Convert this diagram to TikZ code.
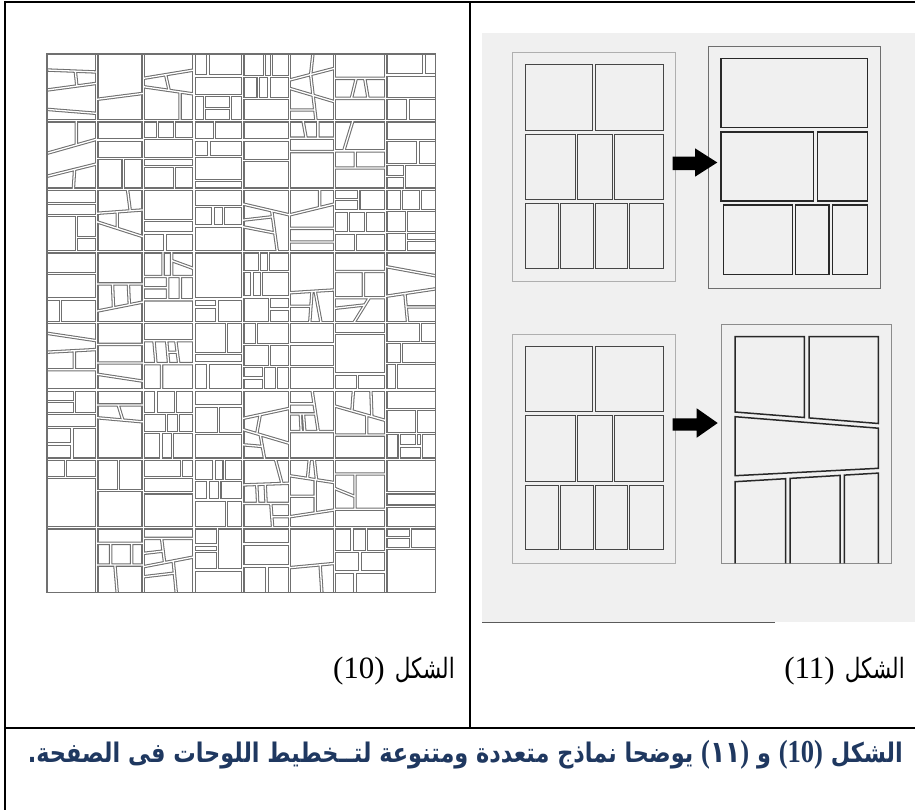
\documentclass[tikz,border=0pt]{standalone}
\usepackage{fontspec}
\usepackage{graphicx}
\TeXXeTstate=1
\newfontfamily\arabicfont[Script=Arabic]{DejaVu Sans}
\newfontfamily\serifLat{Liberation Serif}
\definecolor{capblue}{RGB}{31,56,96}
\definecolor{gutgray}{RGB}{112,112,112}
\definecolor{bgpanel}{RGB}{240,240,240}
\definecolor{panelA}{RGB}{70,70,70}
\definecolor{panelB}{RGB}{40,40,40}
\def\XL{{47,96.7,143.3,194,242.7,289.5,334.5,385.7,435.5}}
\def\YL{{54,120.7,189.3,251.7,322.5,390,459.3,527.7,592.7}}
\newcommand\cell[3]{%
  \pgfmathsetmacro\cxa{\XL[#1-1]}\pgfmathsetmacro\cxb{\XL[#1]}%
  \pgfmathsetmacro\cya{\YL[#2-1]}\pgfmathsetmacro\cyb{\YL[#2]}%
  \pgfmathsetmacro\cw{\cxb-\cxa}\pgfmathsetmacro\ch{\cyb-\cya}%
  \begin{scope}[xshift=\cxa bp, yshift=-\cya bp, x={(\cw bp,0bp)}, y={(0bp,-\ch bp)}]
    \draw[gut] #3;
  \end{scope}}
\newcommand\gridcontent{%
  \foreach \xx in {96.7,143.3,194,242.7,289.5,334.5,385.7} \draw[gutb] (\xx,54)--(\xx,592.7);
  \foreach \yy in {120.7,189.3,251.7,322.5,390,459.3,527.7} \draw[gutb] (47,\yy)--(435.5,\yy);
  % row 1
  \cell{1}{1}{(0,.24)--(1,.27) (.57,.255)--(.6,.48) (0,.54)--(1,.44) (0,.83)--(1,.89)}
  \cell{2}{1}{(0,.68)--(1,.59)}
  \cell{3}{1}{(0,.365)--(1,.24) (.44,.31)--(.51,.546) (0,.49)--(1,.6) (.725,.57)--(.725,1)}
  \cell{4}{1}{(.29,0)--(.29,.33) (0,.33)--(1,.33) (0,.62)--(1,.62) (.22,.62)--(.22,1) (.745,.62)--(.745,1) (.22,.815)--(.745,.815)}
  \cell{5}{1}{(.47,0)--(.47,.34) (.61,0)--(.61,.34) (0,.34)--(1,.34) (.33,.34)--(.33,.665) (.56,.34)--(.56,.665) (0,.665)--(1,.665)}
  \cell{6}{1}{(.52,0)--(.47,.31) (0,.39)--(1,.215) (0,.515)--(1,.715) (.47,.31)--(.59,1) (0,.84)--(.56,.84)}
  \cell{7}{1}{(0,.365)--(1,.365) (.33,.665)--(.425,.365) (.59,.365)--(.655,.665) (0,.665)--(1,.665)}
  \cell{8}{1}{(.77,0)--(.77,.315) (0,.315)--(1,.315) (0,.665)--(1,.665) (.45,.665)--(.45,1)}
  % row 2
  \cell{1}{2}{(.59,0)--(.59,.354) (0,.475)--(1,.27) (0,.81)--(1,.63) (.555,.71)--(.53,1)}
  \cell{2}{2}{(0,.28)--(1,.28) (0,.55)--(1,.55) (.568,.55)--(.568,1)}
  \cell{3}{2}{(.28,0)--(.28,.26) (.62,0)--(.62,.26) (0,.26)--(1,.26) (0,.55)--(1,.55) (0,.67)--(1,.67) (.62,.67)--(.62,1)}
  \cell{4}{2}{(.42,0)--(.42,.28) (0,.28)--(1,.28) (.31,.28)--(.31,.52) (0,.52)--(1,.52) (0,.87)--(1,.87)}
  \cell{5}{2}{(0,.28)--(1,.28) (0,.58)--(1,.58)}
  \cell{6}{2}{(.3,0)--(.37,.255) (.63,0)--(.63,.255) (0,.255)--(1,.255) (0,.45)--(1,.45)}
  \cell{7}{2}{(.36,0)--(.18,.44) (0,.44)--(1,.44) (.405,.44)--(.405,.69) (0,.69)--(1,.69)}
  \cell{8}{2}{(0,.285)--(1,.285) (.65,.285)--(.65,.635) (0,.635)--(1,.635) (.375,.635)--(.375,1) (0,.815)--(.375,.815)}
  % row 3
  \cell{1}{3}{(0,.225)--(1,.225) (0,.42)--(1,.42) (.595,.42)--(.595,1) (.595,.77)--(1,.77)}
  \cell{2}{3}{(.66,0)--(.72,.345) (0,.385)--(1,.33) (.44,.361)--(.44,.626) (0,.52)--(1,.76)}
  \cell{3}{3}{(0,.5)--(1,.5) (0,.7)--(1,.7) (.43,.7)--(.43,1)}
  \cell{4}{3}{(0,.28)--(1,.28) (.39,.28)--(.39,.59) (.61,.28)--(.61,.59) (0,.59)--(1,.59)}
  \cell{5}{3}{(0,.235)--(1,.41) (0,.495)--(.638,.44) (0,.6)--(.685,.7) (.62,.343)--(.74,1)}
  \cell{6}{3}{(.67,0)--(.67,.293) (0,.41)--(1,.235) (0,.625)--(1,.625) (0,.845)--(1,.845)}
  \cell{7}{3}{(0,.165)--(.475,.165) (.475,0)--(.475,.35) (0,.35)--(1,.35) (.27,.35)--(.27,.7) (.61,.35)--(.61,.7) (0,.7)--(1,.7) (.41,.7)--(.41,1)}
  \cell{8}{3}{(.32,0)--(.32,.34) (.7,0)--(.7,.34) (0,.34)--(1,.34) (.42,.34)--(.42,1) (0,.69)--(1,.69) (.42,.82)--(1,.82)}
  % row 4
  \cell{1}{4}{(0,.31)--(1,.31) (0,.67)--(1,.67) (.27,.67)--(.27,1)}
  \cell{2}{4}{(0,.455)--(1,.455) (.34,.455)--(.36,.793) (.68,.455)--(.7,.749) (0,.84)--(1,.71)}
  \cell{3}{4}{(.39,0)--(.39,.35) (.56,0)--(.56,.35) (.56,.125)--(1,.24) (0,.35)--(1,.35) (.48,.35)--(.48,.68) (.73,.35)--(.73,.68) (0,.51)--(.48,.51) (0,.68)--(1,.68)}
  \cell{4}{4}{(0,.67)--(1,.67) (0,.78)--(.47,.78) (.47,.67)--(.47,1)}
  \cell{5}{4}{(.36,0)--(.36,.28) (.55,0)--(.55,.28) (0,.28)--(1,.28) (.2,.28)--(.2,.64) (.4,.28)--(.4,.64) (0,.64)--(1,.64) (.57,.64)--(.57,1) (.57,.81)--(1,.81)}
  \cell{6}{4}{(0,.58)--(1,.54) (.5,.56)--(.45,1) (.57,.557)--(.7,1) (0,.77)--(.476,.77)}
  \cell{7}{4}{(0,.28)--(1,.28) (.565,.28)--(.565,.65) (0,.65)--(1,.65) (0,.8)--(.594,.752) (.68,.65)--(.38,1)}
  \cell{8}{4}{(0,.21)--(1,.34) (0,.63)--(1,.525) (.385,.59)--(.44,1) (.41,.78)--(1,.78)}
  % row 5
  \cell{1}{5}{(0,.16)--(1,.27) (0,.44)--(1,.4) (.55,.42)--(.55,.7) (0,.7)--(1,.7)}
  \cell{2}{5}{(0,.325)--(1,.325) (0,.6)--(1,.6) (0,.765)--(1,.87)}
  \cell{3}{5}{(0,.27)--(1,.27) (.21,.27)--(.25,.61) (.46,.27)--(.5,.61) (.64,.27)--(.7,.61) (.48,.44)--(.67,.44) (0,.61)--(1,.61) (.36,.61)--(.36,1)}
  \cell{4}{5}{(.67,0)--(.67,.46) (0,.46)--(1,.46) (0,.6)--(1,.6) (.29,.6)--(.29,1)}
  \cell{5}{5}{(.3,0)--(.3,.33) (0,.33)--(1,.33) (.57,.33)--(.57,.655) (0,.655)--(1,.655) (.45,.655)--(.45,1) (.72,.655)--(.72,1) (0,.82)--(.45,.82)}
  \cell{6}{5}{(0,.32)--(1,.32) (0,.655)--(1,.655)}
  \cell{7}{5}{(0,.16)--(1,.16) (0,.765)--(1,.765) (.45,.765)--(.45,1)}
  \cell{8}{5}{(.7,0)--(.7,.295) (0,.295)--(1,.295) (.32,.295)--(.32,.605) (0,.605)--(1,.605) (.22,.605)--(.22,1)}
  % row 6
  \cell{1}{6}{(0,.17)--(.55,.17) (.55,0)--(.55,.34) (0,.34)--(1,.34) (0,.545)--(1,.545) (.5,.545)--(.5,1) (0,.78)--(.5,.78)}
  \cell{2}{6}{(0,.215)--(1,.215) (.46,.215)--(.56,.434) (0,.4)--(1,.46)}
  \cell{3}{6}{(.25,0)--(.25,.34) (.63,0)--(.63,.34) (0,.34)--(1,.34) (.46,.34)--(.46,.615) (.69,.34)--(.69,.615) (0,.615)--(1,.615) (.35,.615)--(.35,1) (.58,.615)--(.58,1)}
  \cell{4}{6}{(0,.23)--(1,.23) (.5,.23)--(.5,.625) (0,.625)--(1,.625)}
  \cell{5}{6}{(0,.41)--(1,.265) (.375,.356)--(.3,.63) (0,.57)--(1,.77) (0,.79)--(.42,.815) (.375,.645)--(.47,1)}
  \cell{6}{6}{(.5,0)--(.64,.6) (0,.2)--(.547,.2) (0,.345)--(.58,.345) (.24,.345)--(.26,.6) (.31,.345)--(.34,.6) (0,.6)--(1,.6)}
  \cell{7}{6}{(.37,0)--(.34,.30) (.71,0)--(.73,.383) (0,.23)--(1,.44) (.63,.362)--(.63,.65) (0,.65)--(1,.65)}
  \cell{8}{6}{(0,.28)--(1,.28) (.62,.28)--(.62,.81) (0,.625)--(1,.625) (.27,.625)--(.27,1) (.72,.625)--(.72,1) (.27,.81)--(.72,.81)}
  % row 7
  \cell{1}{7}{(.37,0)--(.37,.265) (0,.265)--(1,.265)}
  \cell{2}{7}{(.465,0)--(.465,.46) (0,.46)--(1,.46)}
  \cell{3}{7}{(.75,0)--(.75,.265) (0,.265)--(1,.265) (0,.49)--(1,.49)}
  \cell{4}{7}{(.41,0)--(.41,.31) (.62,0)--(.62,.31) (0,.31)--(1,.31) (.29,.31)--(.29,.595) (.53,.31)--(.53,.595) (0,.595)--(1,.595) (.67,.595)--(.67,1)}
  \cell{5}{7}{(.7,0)--(.84,.354) (0,.375)--(1,.35) (.3,.368)--(.32,.645) (.48,.363)--(.5,.645) (0,.645)--(1,.645) (.6,.645)--(.64,1) (.63,.84)--(1,.84)}
  \cell{6}{7}{(.44,0)--(.4,.28) (.55,0)--(.6,.3) (0,.24)--(1,.34) (.57,.297)--(.57,.783) (0,.54)--(.57,.54) (0,.84)--(1,.74)}
  \cell{7}{7}{(0,.215)--(1,.215) (.4,.215)--(.4,.73) (0,.425)--(.4,.545) (0,.73)--(1,.73)}
  \cell{8}{7}{(0,.49)--(1,.49) (0,.685)--(1,.685)}
  % row 8
  \cell{2}{8}{(0,.24)--(1,.24) (.3,.24)--(.3,.575) (.75,.24)--(.75,.575) (0,.575)--(1,.575) (.39,.575)--(.44,1)}
  \cell{3}{8}{(0,.165)--(1,.165) (.36,.165)--(.42,.537) (0,.395)--(.39,.36) (0,.6)--(1,.45) (.59,.51)--(.65,1) (0,.755)--(.6,.7)}
  \cell{4}{8}{(.48,0)--(.48,.65) (0,.265)--(.48,.265) (0,.37)--(.48,.37) (0,.65)--(1,.65)}
  \cell{5}{8}{(0,.25)--(1,.25) (0,.59)--(1,.59) (.52,.59)--(.52,1)}
  \cell{6}{8}{(0,.615)--(1,.55) (.68,.57)--(.72,1)}
  \cell{7}{8}{(.34,0)--(.34,.37) (.62,0)--(.62,.37) (0,.37)--(1,.37) (.5,.37)--(.5,.68) (0,.68)--(1,.68) (.4,.68)--(.4,1)}
  \cell{8}{8}{(0,.15)--(.5,.15) (.5,0)--(.5,.32) (0,.32)--(1,.32)}
}
\tikzset{
  tableline/.style={draw=black, line width=2.2bp},
  pageA/.style={draw={rgb,255:red,175;green,175;blue,175}, line width=1bp},
  panelA/.style={draw=panelA, line width=1bp},
  pageB/.style={draw={rgb,255:red,110;green,110;blue,110}, line width=0.8bp},
  panelB/.style={draw=panelB, line width=1.5bp},
  pageD/.style={draw={rgb,255:red,140;green,140;blue,140}, line width=0.9bp},
  blockarrow/.style={fill=black, draw=none},
  lbl/.style={anchor=base east, inner sep=0pt},
  numtxt/.style={anchor=base east, inner sep=0pt, font=\serifLat\fontsize{31bp}{36bp}\selectfont}
}
\begin{document}
\begin{tikzpicture}[x=1bp,y=-1bp]
\useasboundingbox (0,0) rectangle (915,810);
% ---------- table rules ----------
\draw[tableline] (4,2) -- (915,2);
\draw[tableline] (5.3,1) -- (5.3,810);
\draw[tableline] (470,2) -- (470,728);
\draw[tableline] (5.3,728) -- (915,728);
% ---------- left figure: grid of page layouts ----------
\tikzset{gut/.style={draw=gutgray, line width=3.4bp}, gutb/.style={draw=gutgray, line width=3.9bp}}
\gridcontent
\tikzset{gut/.style={draw=white, line width=1.3bp}, gutb/.style={draw=white, line width=1.5bp}}
\gridcontent
\draw[draw=gutgray, line width=1.3bp] (47,54) rectangle (435.5,592.7);
% ---------- right figure ----------
\fill[bgpanel] (482,33) rectangle (915,622);
\draw[draw={rgb,255:red,90;green,90;blue,90}, line width=0.8bp] (482,622) -- (775,622);
% page A and page C (same layout)
\foreach \dy in {0,281.6}{
  \begin{scope}[yshift=-\dy bp]
    \draw[pageA] (512.7,52.7) rectangle (675,281.7);
    \draw[panelA] (525,65) rectangle (592.5,130);
    \draw[panelA] (595.5,65) rectangle (663.3,130);
    \draw[panelA] (525,134) rectangle (575,199.5);
    \draw[panelA] (577.5,134) rectangle (612,199.5);
    \draw[panelA] (614.5,134) rectangle (663.3,199.5);
    \draw[panelA] (525,203.5) rectangle (558,268.3);
    \draw[panelA] (560.5,203.5) rectangle (593,268.3);
    \draw[panelA] (595.5,203.5) rectangle (627,268.3);
    \draw[panelA] (629.5,203.5) rectangle (663.3,268.3);
  \end{scope}}
% page B
\draw[pageB] (708.3,46) rectangle (880,288.3);
\draw[panelB] (721,58.3) rectangle (867.3,127.3);
\draw[panelB] (721,132) rectangle (813.3,201);
\draw[panelB] (817.3,132) rectangle (867.3,201);
\draw[panelB] (723.7,205) rectangle (792.3,274.3);
\draw[panelB] (795.7,205) rectangle (829,274.3);
\draw[panelB] (832.3,205) rectangle (867.3,274.3);
% page D
\draw[pageD] (721.7,324) rectangle (891,563.3);
\draw[panelB] (735,336.7) -- (804.3,336.7) -- (804.3,417.5) -- (735,412) -- cycle;
\draw[panelB] (809,336.7) -- (878.3,336.7) -- (878.3,423.5) -- (809,417.9) -- cycle;
\draw[panelB] (735,416.7) -- (878.3,428.2) -- (878.3,468.3) -- (735,475.7) -- cycle;
\draw[panelB] (735,563.3) -- (735,481.7) -- (785.7,478.7) -- (785.7,563.3);
\draw[panelB] (790,563.3) -- (790,478.4) -- (840,475.4) -- (840,563.3);
\draw[panelB] (844.3,563.3) -- (844.3,475.1) -- (878.3,473.1) -- (878.3,563.3);
% arrows
\fill[blockarrow] (672.7,156.7) -- (695,156.7) -- (695,148.3) -- (717.3,162.5) -- (695,176.7) -- (695,170) -- (672.7,170) -- cycle;
\fill[blockarrow] (672.7,418.3) -- (696.7,418.3) -- (696.7,408.3) -- (717.7,423) -- (696.7,437.7) -- (696.7,430.7) -- (672.7,430.7) -- cycle;
% ---------- labels ----------
\node[lbl] (lab10w) at (455,678) {\resizebox{60bp}{\height}{\arabicfont\fontsize{28bp}{32bp}\selectfont\beginR الشكل\endR}};
\node[numtxt] (lab10n) at (385,678) {(10)};
\node[lbl] (lab11w) at (905,678) {\resizebox{60bp}{\height}{\arabicfont\fontsize{28bp}{32bp}\selectfont\beginR الشكل\endR}};
\node[numtxt] (lab11n) at (835,678) {(11)};
\node[lbl] (caption) at (903,762) {\resizebox{875bp}{\height}{\color{capblue}\bfseries\fontsize{27bp}{32bp}\selectfont\arabicfont\beginR الشكل \beginL{\serifLat\fontsize{32bp}{36bp}\selectfont(10)}\endL{} و \beginL{\serifLat\fontsize{32bp}{36bp}\selectfont(}{\fontsize{30bp}{34bp}\selectfont ١١}{\serifLat\fontsize{32bp}{36bp}\selectfont)}\endL{} يوضحا نماذج متعددة ومتنوعة لتــخطيط اللوحات فى الصفحة.\endR}};
\end{tikzpicture}
\end{document}
